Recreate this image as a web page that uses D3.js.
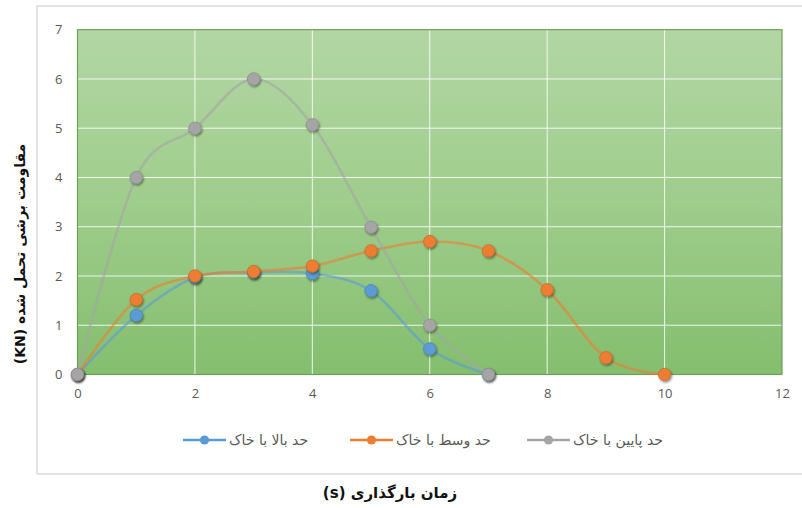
<!DOCTYPE html>
<html>
<head>
<meta charset="utf-8">
<script src="https://cdn.jsdelivr.net/npm/d3@7"></script>
<style>
  html, body { margin: 0; padding: 0; background: #ffffff; }
  svg { display: block; }
</style>
</head>
<body>
<svg id="chart" width="802" height="508"></svg>
<script>
// Loading time (s) for each measured point
const timeUpper = [0, 1, 2, 3, 4, 5, 6, 7];
const timeMiddle = [0, 1, 2, 3, 4, 5, 6, 7, 8, 9, 10];
const timeLower = [0, 1, 2, 3, 4, 5, 6, 7];

// Shear resistance (KN)
const upperValues = [0, 1.2, 1.97, 2.07, 2.05, 1.7, 0.52, 0];
const middleValues = [0, 1.52, 2.0, 2.09, 2.2, 2.51, 2.7, 2.51, 1.72, 0.34, 0];
const lowerValues = [0, 4.0, 5.0, 6.0, 5.07, 2.99, 1.0, 0];

const seriesNames = ["حد بالا با خاک", "حد وسط با خاک", "حد پایین با خاک"];
const seriesColors = ["#5b9bd5", "#ed7d31", "#a5a5a5"];

const xTicks = [0, 2, 4, 6, 8, 10, 12];
const yTicks = [0, 1, 2, 3, 4, 5, 6, 7];

const xTitle = "زمان بارگذاری (s)";
const yTitle = "مقاومت برشی تحمل شده (KN)";

const svg = d3.select("#chart");

const plot = { left: 77.5, right: 782, top: 29.7, bottom: 374.5 };

const x = d3.scaleLinear().domain([0, 12]).range([plot.left, plot.right]);
const y = d3.scaleLinear().domain([0, 7]).range([plot.bottom, plot.top]);

const defs = svg.append("defs");

const grad = defs.append("linearGradient")
  .attr("id", "plotFill").attr("x1", 0).attr("y1", 0).attr("x2", 0).attr("y2", 1);
grad.append("stop").attr("offset", "0%").attr("stop-color", "#b2d6a4");
grad.append("stop").attr("offset", "50%").attr("stop-color", "#9fcd8c");
grad.append("stop").attr("offset", "100%").attr("stop-color", "#84be6e");

const shadow = defs.append("filter").attr("id", "markShadow")
  .attr("x", "-60%").attr("y", "-60%").attr("width", "220%").attr("height", "220%");
shadow.append("feDropShadow")
  .attr("dx", 1).attr("dy", 1.5).attr("stdDeviation", 1.3)
  .attr("flood-color", "#000").attr("flood-opacity", 0.45);

// Outer chart frame
svg.append("path")
  .attr("d", "M37,474 L37,6 L802,6")
  .attr("fill", "none").attr("stroke", "#d9d9d9").attr("stroke-width", 1.5);
svg.append("line")
  .attr("x1", 37).attr("x2", 802).attr("y1", 474).attr("y2", 474)
  .attr("stroke", "#d9d9d9").attr("stroke-width", 1.5);

// Plot area background
svg.append("rect")
  .attr("x", plot.left).attr("y", plot.top)
  .attr("width", plot.right - plot.left).attr("height", plot.bottom - plot.top)
  .attr("fill", "url(#plotFill)");

// Grid lines
const grid = svg.append("g").attr("stroke", "#ffffff").attr("stroke-opacity", 0.85).attr("stroke-width", 1);
grid.selectAll("line.h").data(yTicks.slice(1, -1)).join("line")
  .attr("x1", plot.left).attr("x2", plot.right)
  .attr("y1", d => y(d)).attr("y2", d => y(d));
grid.selectAll("line.v").data(xTicks.slice(1, -1)).join("line")
  .attr("y1", plot.top).attr("y2", plot.bottom)
  .attr("x1", d => x(d)).attr("x2", d => x(d));

// Plot border
svg.append("rect")
  .attr("x", plot.left).attr("y", plot.top)
  .attr("width", plot.right - plot.left).attr("height", plot.bottom - plot.top)
  .attr("fill", "none").attr("stroke", "#6f9e5a").attr("stroke-width", 1.2);

// Axes (labels only)
const xAxis = d3.axisBottom(x).tickValues(xTicks).tickFormat(d3.format("d")).tickSize(0).tickPadding(14);
const yAxis = d3.axisLeft(y).tickValues(yTicks).tickFormat(d3.format("d")).tickSize(0).tickPadding(15);

const gx = svg.append("g").attr("transform", `translate(0,${plot.bottom})`).call(xAxis);
const gy = svg.append("g").attr("transform", `translate(${plot.left},0)`).call(yAxis);
[gx, gy].forEach(g => {
  g.select(".domain").remove();
  g.selectAll("text")
    .attr("fill", "#595959")
    .style("font-family", "'Open Sans', 'Liberation Sans', sans-serif")
    .style("font-size", "13px");
});

// Series
const series = [
  { name: seriesNames[0], color: seriesColors[0], xs: timeUpper, ys: upperValues },
  { name: seriesNames[1], color: seriesColors[1], xs: timeMiddle, ys: middleValues },
  { name: seriesNames[2], color: seriesColors[2], xs: timeLower, ys: lowerValues }
];

// Smoothed lines (uniform Catmull-Rom)
const line = d3.line()
  .x(d => x(d[0])).y(d => y(d[1]))
  .curve(d3.curveCatmullRom.alpha(0));

series.forEach(s => {
  const pts = s.xs.map((t, i) => [t, s.ys[i]]);
  const g = svg.append("g");
  g.append("path")
    .datum(pts)
    .attr("d", line)
    .attr("fill", "none")
    .attr("stroke", s.color)
    .attr("stroke-opacity", 0.6)
    .attr("stroke-width", 2.6);
  g.selectAll("circle").data(pts).join("circle")
    .attr("cx", d => x(d[0])).attr("cy", d => y(d[1]))
    .attr("r", 6.2)
    .attr("fill", s.color)
    .attr("stroke", d3.color(s.color).darker(0.4))
    .attr("stroke-width", 0.8)
    .attr("filter", "url(#markShadow)");
});

// Legend, arranged right to left
const legendY = 440;
const legendItems = [
  { s: series[0], x0: 183, x1: 226 },
  { s: series[1], x0: 350, x1: 393 },
  { s: series[2], x0: 527, x1: 570 }
];
const legend = svg.append("g");
legendItems.forEach(it => {
  legend.append("line")
    .attr("x1", it.x0).attr("x2", it.x1).attr("y1", legendY).attr("y2", legendY)
    .attr("stroke", it.s.color).attr("stroke-width", 2.4);
  legend.append("circle")
    .attr("cx", (it.x0 + it.x1) / 2).attr("cy", legendY).attr("r", 4.6)
    .attr("fill", it.s.color);
  legend.append("text")
    .attr("x", it.x1 + 3).attr("y", legendY + 5)
    .attr("fill", "#595959")
    .style("font-family", "'DejaVu Sans', sans-serif")
    .style("font-size", "14px")
    .text(it.s.name);
});

// Axis titles
svg.append("text")
  .attr("x", 390).attr("y", 498)
  .attr("text-anchor", "middle")
  .attr("direction", "rtl")
  .attr("fill", "#111")
  .style("font-family", "'DejaVu Sans', sans-serif")
  .style("font-weight", "bold")
  .style("font-size", "15px")
  .text(xTitle);

svg.append("text")
  .attr("transform", "translate(25,254) rotate(-90)")
  .attr("text-anchor", "middle")
  .attr("direction", "rtl")
  .attr("fill", "#111")
  .style("font-family", "'DejaVu Sans', sans-serif")
  .style("font-weight", "bold")
  .style("font-size", "14px")
  .text(yTitle);
</script>
</body>
</html>
